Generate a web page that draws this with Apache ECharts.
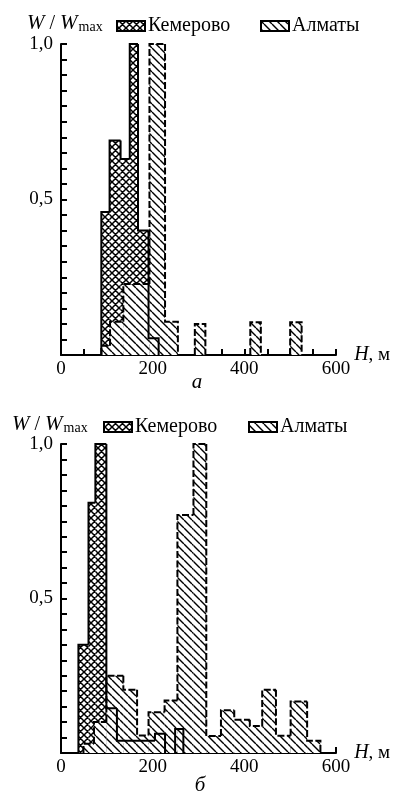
<!DOCTYPE html>
<html>
<head>
<meta charset="utf-8">
<script src="https://cdn.jsdelivr.net/npm/echarts@6/dist/echarts.min.js"></script>
<style>html,body{margin:0;padding:0;background:#fff;}#c{width:394px;height:798px;}</style>
</head>
<body>
<div id="c"></div>
<script>
// ---- data (H in metres, W/Wmax) ----
const xTickLabels = [0, 200, 400, 600];
const yTickLabels = [0.5, 1.0];

// Panel a
const aKemLeft   = [88, 106, 130, 150, 168, 191];
const aKemRight  = [106, 130, 150, 168, 191, 213];
const aKemValue  = [0.46, 0.69, 0.63, 1.0, 0.40, 0.054];

const aAlmLeft   = [88, 107, 136, 193, 227, 292, 413, 500];
const aAlmRight  = [107, 136, 193, 227, 255, 315, 436, 525];
const aAlmValue  = [0.03, 0.107, 0.228, 1.0, 0.107, 0.10, 0.105, 0.105];

// Panel б
const bKemLeft   = [38, 60, 75, 99, 122, 205, 249];
const bKemRight  = [60, 75, 99, 122, 205, 227, 267];
const bKemValue  = [0.35, 0.81, 1.0, 0.145, 0.04, 0.062, 0.078];

const bAlmLeft   = [49, 72, 99, 136, 166, 191, 226, 254, 289, 317, 349, 378, 412, 439, 469, 501, 537];
const bAlmRight  = [72, 99, 136, 166, 191, 226, 254, 289, 317, 349, 378, 412, 439, 469, 501, 537, 566];
const bAlmValue  = [0.03, 0.1, 0.25, 0.205, 0.057, 0.132, 0.17, 0.77, 1.0, 0.055, 0.138, 0.108, 0.087, 0.205, 0.056, 0.167, 0.04];

const FONT = 'Liberation Serif';

// ---- patterns ----
function makePattern(kind) {
  const s = kind === 'cross' ? 7 : 8;
  const c = document.createElement('canvas');
  c.width = s; c.height = s;
  const g = c.getContext('2d');
  g.fillStyle = '#fff'; g.fillRect(0, 0, s, s);
  g.strokeStyle = '#000'; g.lineWidth = kind === 'cross' ? 1.5 : 1.4;
  g.beginPath();
  for (const k of [-s, 0, s]) {
    g.moveTo(k, 0); g.lineTo(k + s, s);
    if (kind === 'cross') { g.moveTo(k + s, 0); g.lineTo(k, s); }
  }
  g.stroke();
  return { image: c, repeat: 'repeat' };
}
const crossPat = makePattern('cross');
const hatchPat = makePattern('hatch');

function buildData(L, R, V) {
  return L.map((l, i) => {
    const prevAdj = i > 0 && R[i - 1] === l;
    const nextAdj = i < L.length - 1 && L[i + 1] === R[i];
    return [l, R[i], V[i], prevAdj ? V[i - 1] : 0, nextAdj ? 1 : 0];
  });
}

function fillSeries(data, pat, gi, z) {
  return {
    type: 'custom', xAxisIndex: gi, yAxisIndex: gi, z: z,
    encode: { x: [0, 1], y: 2 },
    data: data,
    renderItem: function (params, api) {
      const p0 = api.coord([api.value(0), api.value(2)]);
      const p1 = api.coord([api.value(1), 0]);
      return { type: 'rect', shape: { x: p0[0], y: p0[1], width: p1[0] - p0[0], height: p1[1] - p0[1] },
               style: { fill: pat, stroke: null } };
    }
  };
}
function outlineSeries(data, dashed, gi, z) {
  return {
    type: 'custom', xAxisIndex: gi, yAxisIndex: gi, z: z,
    encode: { x: [0, 1], y: 2 },
    data: data,
    renderItem: function (params, api) {
      const l = api.value(0), r = api.value(1), h = api.value(2), ph = api.value(3), na = api.value(4);
      const pts = [api.coord([l, ph]), api.coord([l, h]), api.coord([r, h])];
      if (!na) pts.push(api.coord([r, 0]));
      return { type: 'polyline', shape: { points: pts },
               style: { stroke: '#000', lineWidth: 2, fill: null, lineDash: dashed ? [7, 2.5] : null } };
    }
  };
}

function xAxis(gi) {
  return {
    gridIndex: gi, type: 'value', min: 0, max: 600, interval: 50,
    axisLine: { lineStyle: { color: '#000', width: 2 } },
    axisTick: { inside: true, length: 6, lineStyle: { color: '#000', width: 2 } },
    axisLabel: { color: '#000', fontFamily: FONT, fontSize: 19, margin: 5,
                 formatter: v => xTickLabels.indexOf(v) >= 0 ? String(v) : '' },
    splitLine: { show: false },
    name: '{i|H}, м', nameLocation: 'end', nameGap: 7,
    nameTextStyle: { color: '#000', fontFamily: FONT, fontSize: 19,
                     rich: { i: { fontStyle: 'italic', fontFamily: FONT, fontSize: 20, color: '#000' } } }
  };
}
function yAxis(gi) {
  return {
    gridIndex: gi, type: 'value', min: 0, max: 1, interval: 0.05,
    axisLine: { lineStyle: { color: '#000', width: 2 } },
    axisTick: { inside: true, length: 6, lineStyle: { color: '#000', width: 2 } },
    axisLabel: { color: '#000', fontFamily: FONT, fontSize: 19, margin: 8,
                 formatter: v => { for (const t of yTickLabels) if (Math.abs(v - t) < 1e-6) return t.toFixed(1).replace('.', ','); return ''; } },
    splitLine: { show: false }
  };
}

function legend(y, xW, xBox1, xTxt1, xBox2, xTxt2) {
  return [
    { type: 'text', left: xW, top: y - 13, style: {
        text: '{i|W} / {i|W}{s|max}', fontFamily: FONT, fontSize: 20, fill: '#000',
        rich: { i: { fontStyle: 'italic', fontFamily: FONT, fontSize: 21 },
                s: { fontFamily: FONT, fontSize: 14, verticalAlign: 'bottom', padding: [8, 0, 0, 1] } } } },
    { type: 'rect', shape: { x: xBox1, y: y - 5, width: 28, height: 10 }, style: { fill: crossPat, stroke: '#000', lineWidth: 2 } },
    { type: 'text', x: xTxt1, y: y, style: { text: 'Кемерово', fontFamily: FONT, fontSize: 20, fill: '#000', verticalAlign: 'middle' } },
    { type: 'rect', shape: { x: xBox2, y: y - 5, width: 28, height: 10 }, style: { fill: hatchPat, stroke: '#000', lineWidth: 2 } },
    { type: 'text', x: xTxt2, y: y, style: { text: 'Алматы', fontFamily: FONT, fontSize: 20, fill: '#000', verticalAlign: 'middle' } }
  ];
}

const chart = echarts.init(document.getElementById('c'), null, { renderer: 'canvas' });
const aKem = buildData(aKemLeft, aKemRight, aKemValue);
const aAlm = buildData(aAlmLeft, aAlmRight, aAlmValue);
const bKem = buildData(bKemLeft, bKemRight, bKemValue);
const bAlm = buildData(bAlmLeft, bAlmRight, bAlmValue);

chart.setOption({
  animation: false,
  backgroundColor: '#fff',
  grid: [
    { left: 61, right: 58, top: 44, bottom: 443 },
    { left: 61, right: 58, top: 444, bottom: 45 }
  ],
  xAxis: [xAxis(0), xAxis(1)],
  yAxis: [yAxis(0), yAxis(1)],
  series: [
    fillSeries(aKem, crossPat, 0, 2), fillSeries(aAlm, hatchPat, 0, 3),
    outlineSeries(aKem, false, 0, 4), outlineSeries(aAlm, true, 0, 5),
    fillSeries(bKem, crossPat, 1, 2), fillSeries(bAlm, hatchPat, 1, 3),
    outlineSeries(bKem, false, 1, 4), outlineSeries(bAlm, true, 1, 5)
  ],
  graphic: [].concat(
    legend(26, 27, 117, 148, 261, 292),
    legend(427, 12, 104, 135, 249, 280),
    [
      { type: 'text', x: 197, y: 382, style: { text: 'а', fontFamily: FONT, fontStyle: 'italic', fontSize: 21, fill: '#000', align: 'center', verticalAlign: 'middle' } },
      { type: 'text', x: 200, y: 785, style: { text: 'б', fontFamily: FONT, fontStyle: 'italic', fontSize: 21, fill: '#000', align: 'center', verticalAlign: 'middle' } }
    ]
  )
});
</script>
</body>
</html>
